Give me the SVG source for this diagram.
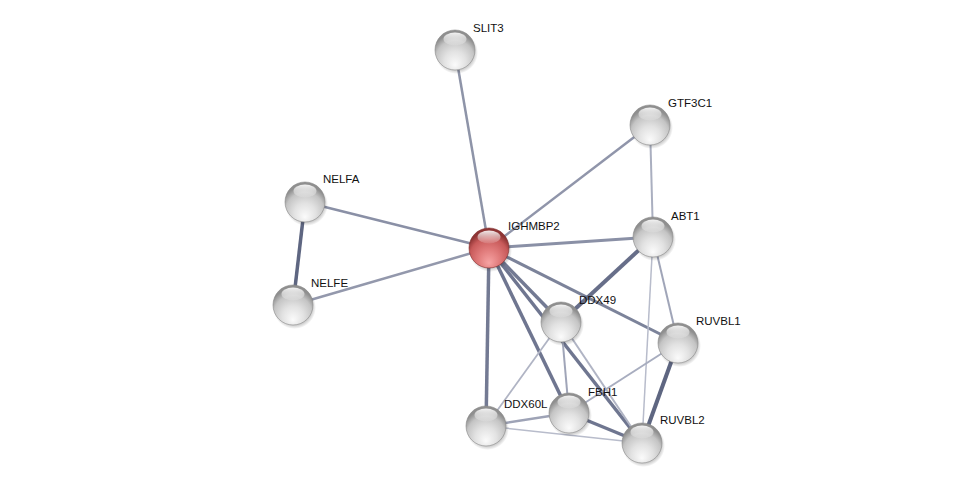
<svg xmlns="http://www.w3.org/2000/svg" width="975" height="487" viewBox="0 0 975 487">
<defs>
<radialGradient id="gBall" cx="50%" cy="70%" r="60%" fx="50%" fy="88%">
<stop offset="0" stop-color="#fbfbfb"/>
<stop offset="0.45" stop-color="#e2e2e2"/>
<stop offset="0.8" stop-color="#c4c4c4"/>
<stop offset="1" stop-color="#8f8f8f"/>
</radialGradient>
<radialGradient id="gRed" cx="50%" cy="70%" r="60%" fx="50%" fy="88%">
<stop offset="0" stop-color="#f7a4a4"/>
<stop offset="0.45" stop-color="#e07a7a"/>
<stop offset="0.8" stop-color="#c85a5a"/>
<stop offset="1" stop-color="#8e3434"/>
</radialGradient>
<linearGradient id="gHi" x1="0" y1="0" x2="0" y2="1">
<stop offset="0" stop-color="#ffffff" stop-opacity="0.9"/>
<stop offset="1" stop-color="#ffffff" stop-opacity="0.1"/>
</linearGradient>
<radialGradient id="gShadow" cx="50%" cy="50%" r="50%">
<stop offset="0.75" stop-color="#000" stop-opacity="0.28"/>
<stop offset="1" stop-color="#000" stop-opacity="0"/>
</radialGradient>
<g id="ball">
<circle cx="1.5" cy="2.5" r="21.5" fill="url(#gShadow)"/>
<circle r="20" fill="url(#gBall)" stroke="#8a8a8a" stroke-width="0.6"/>
<ellipse cx="0" cy="-11" rx="11.5" ry="6.5" fill="url(#gHi)"/>
</g>
<g id="ballRed">
<circle cx="1.5" cy="2.5" r="21.5" fill="url(#gShadow)"/>
<circle r="20" fill="url(#gRed)" stroke="#823030" stroke-width="0.6"/>
<ellipse cx="0" cy="-11" rx="11.5" ry="6.5" fill="url(#gHi)"/>
</g>
</defs>
<style>
.lbl{font-family:"Liberation Sans",Arial,sans-serif;font-size:11.5px;fill:#111}
.e{fill:none;stroke-linecap:butt}
</style>
<rect width="975" height="487" fill="#ffffff"/>
<g id="edges">
<line class="e" x1="455" y1="50" x2="489" y2="248" stroke="#8e94a8" stroke-width="2.5"/>
<line class="e" x1="650" y1="125" x2="489" y2="248" stroke="#9095aa" stroke-width="2.5"/>
<line class="e" x1="650" y1="125" x2="653" y2="237" stroke="#aaafc0" stroke-width="2"/>
<line class="e" x1="305" y1="202" x2="489" y2="248" stroke="#8a90a6" stroke-width="2.5"/>
<line class="e" x1="305" y1="202" x2="293" y2="305" stroke="#5e6681" stroke-width="3.5"/>
<line class="e" x1="293" y1="305" x2="489" y2="248" stroke="#9398ac" stroke-width="2.5"/>
<line class="e" x1="489" y1="248" x2="653" y2="237" stroke="#8a90a6" stroke-width="3"/>
<line class="e" x1="489" y1="248" x2="561" y2="322" stroke="#737a93" stroke-width="3.5"/>
<line class="e" x1="489" y1="248" x2="678" y2="343" stroke="#7c839a" stroke-width="3"/>
<line class="e" x1="489" y1="248" x2="486" y2="426" stroke="#737a93" stroke-width="3.5"/>
<line class="e" x1="489" y1="248" x2="569" y2="413" stroke="#6f7690" stroke-width="3.5"/>
<line class="e" x1="489" y1="248" x2="642" y2="443" stroke="#6f7690" stroke-width="3.5"/>
<line class="e" x1="653" y1="237" x2="561" y2="322" stroke="#676e89" stroke-width="4"/>
<line class="e" x1="653" y1="237" x2="678" y2="343" stroke="#a0a5b8" stroke-width="2"/>
<line class="e" x1="653" y1="237" x2="642" y2="443" stroke="#b8bccb" stroke-width="1.5"/>
<line class="e" x1="561" y1="322" x2="486" y2="426" stroke="#b0b4c4" stroke-width="1.8"/>
<line class="e" x1="561" y1="322" x2="569" y2="413" stroke="#a0a5b8" stroke-width="2"/>
<line class="e" x1="561" y1="322" x2="642" y2="443" stroke="#b0b4c4" stroke-width="2"/>
<line class="e" x1="678" y1="343" x2="569" y2="413" stroke="#a8adbf" stroke-width="2"/>
<line class="e" x1="678" y1="343" x2="642" y2="443" stroke="#5e6681" stroke-width="4"/>
<line class="e" x1="486" y1="426" x2="569" y2="413" stroke="#9ea3b6" stroke-width="2.5"/>
<line class="e" x1="486" y1="426" x2="642" y2="443" stroke="#b8bccb" stroke-width="1.5"/>
<line class="e" x1="569" y1="413" x2="642" y2="443" stroke="#6f7690" stroke-width="3.5"/>
</g>
<g id="SLIT3"><use href="#ball" x="455" y="50"/><text class="lbl" x="473" y="32">SLIT3</text></g>
<g id="GTF3C1"><use href="#ball" x="650" y="125"/><text class="lbl" x="668" y="107">GTF3C1</text></g>
<g id="NELFA"><use href="#ball" x="305" y="202"/><text class="lbl" x="323" y="183">NELFA</text></g>
<g id="NELFE"><use href="#ball" x="293" y="305"/><text class="lbl" x="311" y="287">NELFE</text></g>
<g id="ABT1"><use href="#ball" x="653" y="237"/><text class="lbl" x="671" y="220">ABT1</text></g>
<g id="RUVBL1"><use href="#ball" x="678" y="343"/><text class="lbl" x="696" y="325">RUVBL1</text></g>
<g id="DDX49"><use href="#ball" x="561" y="322"/><text class="lbl" x="579" y="304">DDX49</text></g>
<g id="DDX60L"><use href="#ball" x="486" y="426"/><text class="lbl" x="504" y="408">DDX60L</text></g>
<g id="FBH1"><use href="#ball" x="569" y="413"/><text class="lbl" x="588" y="396">FBH1</text></g>
<g id="RUVBL2"><use href="#ball" x="642" y="443"/><text class="lbl" x="660" y="424">RUVBL2</text></g>
<g id="IGHMBP2"><use href="#ballRed" x="489" y="248"/><text class="lbl" x="508" y="230">IGHMBP2</text></g>
</svg>
